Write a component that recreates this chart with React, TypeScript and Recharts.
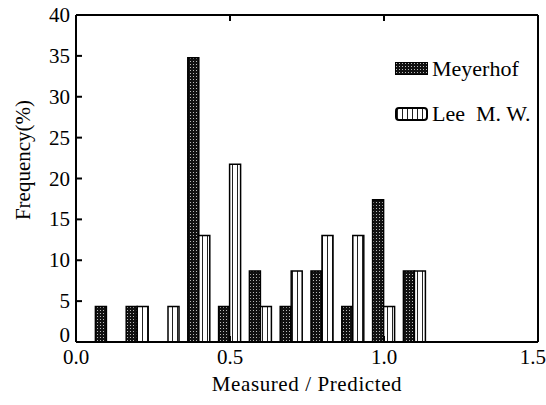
import React from "react";
import { BarChart, Bar, XAxis, YAxis, Label } from "recharts";

// bin centres of the Measured/Predicted ratio
const bins = [0.1, 0.2, 0.3, 0.4, 0.5, 0.6, 0.7, 0.8, 0.9, 1.0, 1.1];
// frequency in %, 23 piles
const meyerhof = [4.35, 4.35, 0, 34.78, 4.35, 8.7, 4.35, 8.7, 4.35, 17.39, 8.7];
const leeMW = [0, 4.35, 4.35, 13.04, 21.74, 4.35, 8.7, 13.04, 13.04, 4.35, 8.7];

const xTicks = [0, 0.5, 1.0, 1.5];
const yTicks = [0, 5, 10, 15, 20, 25, 30, 35, 40];

const FONT = "'Liberation Serif', 'DejaVu Serif', serif";

const data = bins.map((b, i) => ({ bin: b, meyerhof: meyerhof[i], lee: leeMW[i] }));

const NoTick = () => <g />;

// y tick labels; the "0" sits a little above the axis in the original
const YTick = ({ x, y, payload }: any) => (
  <text
    x={x}
    y={payload.value === 0 ? y - 7 : y}
    textAnchor="end"
    dominantBaseline="central"
    fontFamily={FONT}
    fontSize={21}
    fill="#000"
  >
    {payload.value}
  </text>
);

const LegendBox = () => (
  <div
    style={{
      position: "absolute",
      left: 395,
      top: 46,
      fontFamily: FONT,
      fontSize: 22,
      color: "#000",
      lineHeight: "45px",
    }}
  >
    <div style={{ display: "flex", alignItems: "center" }}>
      <svg width={33} height={13} style={{ marginRight: 4 }}>
        <rect x={0.5} y={0.5} width={32} height={12} fill="url(#dots)" stroke="#000" />
      </svg>
      Meyerhof
    </div>
    <div style={{ display: "flex", alignItems: "center" }}>
      <svg width={33} height={14} style={{ marginRight: 4 }}>
        <rect x={1} y={1} width={31} height={12} rx={3} fill="url(#stripes)" stroke="#000" strokeWidth={2} />
      </svg>
      Lee&nbsp; M. W.
    </div>
  </div>
);

const YLabel = () => (
  <text
    x={23}
    y={160}
    transform="rotate(-90 23 160)"
    textAnchor="middle"
    dominantBaseline="central"
    fontFamily={FONT}
    fontSize={21}
    fill="#000"
  >
    Frequency(%)
  </text>
);

export default function App() {
  return (
    <div style={{ position: "absolute", left: 0, top: 0, width: 546, height: 405, background: "#fff" }}>
      <BarChart
        width={546}
        height={405}
        data={data}
        margin={{ top: 14, right: 7, bottom: 0, left: 0 }}
        barSize={11}
        barGap={0}
      >
        <defs>
          <pattern id="dots" width={3} height={3} patternUnits="userSpaceOnUse">
            <rect width={3} height={3} fill="#111" />
            <rect x={1} y={1} width={1} height={1} fill="#bbb" />
          </pattern>
          <pattern id="stripes" width={5} height={5} patternUnits="userSpaceOnUse">
            <rect width={5} height={5} fill="#fff" />
            <rect x={2} width={1} height={5} fill="#222" />
          </pattern>
        </defs>
        <XAxis
          dataKey="bin"
          type="number"
          domain={[0, 1.5]}
          ticks={xTicks}
          tickFormatter={(v) => Number(v).toFixed(1)}
          height={63}
          tickSize={-6}
          tickMargin={13}
          stroke="#000"
          strokeWidth={2}
          tick={{ fill: "#000", fontFamily: FONT, fontSize: 21 }}
        >
          <Label
            value="Measured / Predicted"
            position="insideBottom"
            offset={14}
            style={{ fill: "#000", fontFamily: FONT, fontSize: 21, letterSpacing: 0.6 }}
          />
        </XAxis>
        <XAxis
          xAxisId="top"
          orientation="top"
          type="number"
          dataKey="bin"
          domain={[0, 1.5]}
          ticks={[0.5, 1.0]}
          height={1}
          tickSize={-6}
          stroke="#000"
          strokeWidth={2}
          tick={NoTick}
        />
        <YAxis
          type="number"
          domain={[0, 40]}
          ticks={yTicks}
          width={76}
          tickSize={-6}
          tickMargin={12}
          stroke="#000"
          strokeWidth={2}
          tick={<YTick />}
          label={<YLabel />}
        />
        <YAxis
          yAxisId="right"
          orientation="right"
          type="number"
          domain={[0, 40]}
          ticks={yTicks}
          width={1}
          tickSize={-6}
          stroke="#000"
          strokeWidth={2}
          tick={NoTick}
        />
        <Bar dataKey="meyerhof" name="Meyerhof" fill="url(#dots)" stroke="#000" strokeWidth={1.5} isAnimationActive={false} />
        <Bar dataKey="lee" name="Lee M. W." fill="url(#stripes)" stroke="#000" strokeWidth={1.5} isAnimationActive={false} />
      </BarChart>
      <LegendBox />
    </div>
  );
}
